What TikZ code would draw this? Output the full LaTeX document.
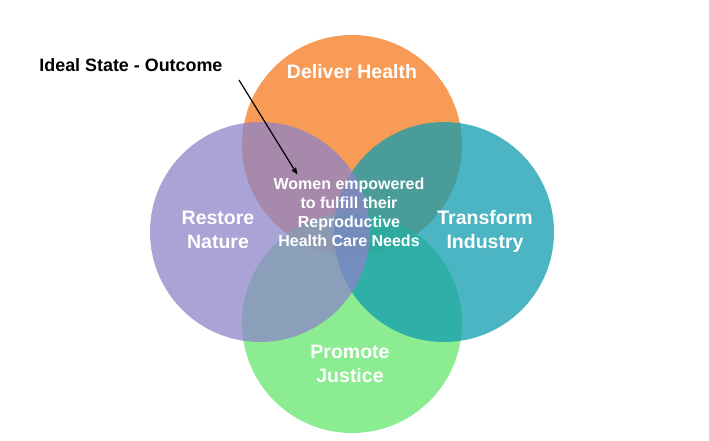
\documentclass[tikz,border=0pt]{standalone}
\usepackage{fontspec}
\setmainfont{Liberation Sans}
\usetikzlibrary{arrows}

\definecolor{healthorange}{RGB}{246,122,30}
\definecolor{naturepurple}{RGB}{140,132,200}
\definecolor{industryteal}{RGB}{15,156,175}
\definecolor{justicegreen}{RGB}{100,230,109}

\begin{document}
\begin{tikzpicture}[x=1pt, y=-1pt, ->, >=stealth', thick]

\tikzstyle{ring}=[circle, minimum size=220pt, inner sep=0pt, fill opacity=0.75]
\tikzstyle{ringtext}=[text=white, align=center, font=\bfseries\fontsize{19.5}{24}\selectfont]
\tikzstyle{coretext}=[text=white, align=center, font=\bfseries\fontsize{16}{19}\selectfont]

\useasboundingbox (0,0) rectangle (709,441);

% the four circles, back to front
\node[ring, fill=healthorange]  (health)   at (352,145) {};
\node[ring, fill=justicegreen]  (justice)  at (352,323) {};
\node[ring, fill=industryteal]  (industry) at (444,232) {};
\node[ring, fill=naturepurple]  (nature)   at (260,232) {};

\path    (352,72)   node[ringtext] (healthtxt)   {Deliver Health}
         (218,230)  node[ringtext] (naturetxt)   {Restore\\Nature}
         (485,231)  node[ringtext] (industrytxt) {Transform\\Industry}
         (350,364)  node[ringtext] (justicetxt)  {Promote\\Justice}
         (349,212)  node[coretext] (outcome)     {Women empowered\\to fulfill their\\Reproductive\\Health Care Needs};

\node[anchor=west, inner sep=0pt, font=\bfseries\fontsize{17.9}{21}\selectfont] (ideal) at (39,65) {Ideal State - Outcome};

\coordinate (pointer) at (239,80);
\coordinate (target)  at (297,174);
\draw[line width=1.2pt] (pointer) -> (target);

\end{tikzpicture}
\end{document}
